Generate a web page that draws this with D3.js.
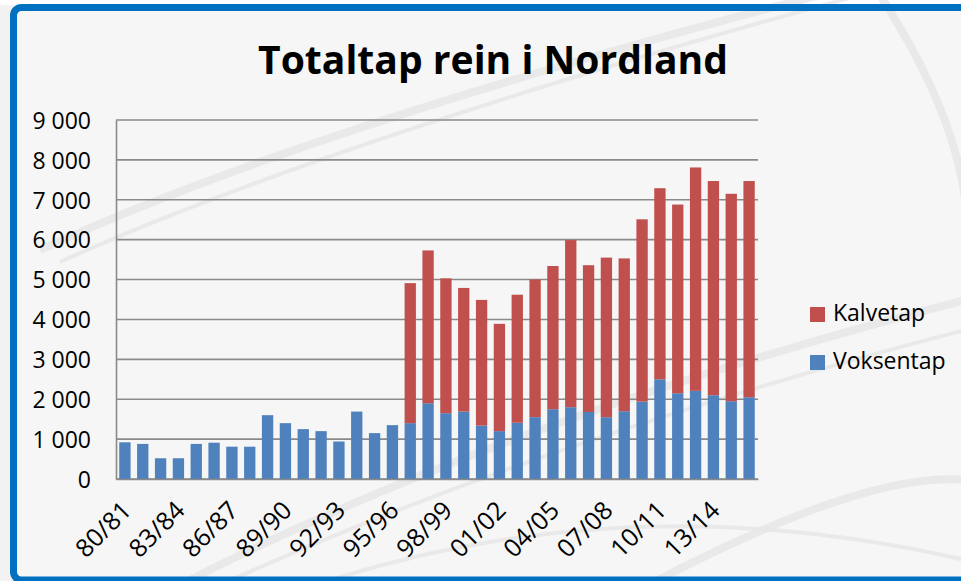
<!DOCTYPE html>
<html>
<head>
<meta charset="utf-8">
<script src="https://cdn.jsdelivr.net/npm/d3@7"></script>
<style>
  body { margin: 0; background: #ffffff; }
  svg { display: block; }
  .tick text { font-family: "Open Sans", sans-serif; fill: #000; }
</style>
</head>
<body>
<div id="chart"></div>
<script>
// sesonger (x-akse)
var seasons = ["80/81","81/82","82/83","83/84","84/85","85/86","86/87","87/88","88/89","89/90",
  "90/91","91/92","92/93","93/94","94/95","95/96","96/97","97/98","98/99","99/00",
  "00/01","01/02","02/03","03/04","04/05","05/06","06/07","07/08","08/09","09/10",
  "10/11","11/12","12/13","13/14","14/15","15/16"];

var voksentap = [920, 880, 520, 520, 880, 910, 810, 810, 1600, 1400,
  1250, 1200, 940, 1690, 1150, 1350, 1400, 1900, 1650, 1690,
  1340, 1200, 1410, 1550, 1750, 1800, 1680, 1550, 1700, 1940,
  2500, 2150, 2210, 2100, 1950, 2050];

var kalvetap = [0, 0, 0, 0, 0, 0, 0, 0, 0, 0,
  0, 0, 0, 0, 0, 0, 3510, 3830, 3380, 3100,
  3150, 2690, 3210, 3450, 3590, 4190, 3680, 4000, 3830, 4570,
  4790, 4730, 5600, 5370, 5200, 5420];

var yTicks = [0, 1000, 2000, 3000, 4000, 5000, 6000, 7000, 8000, 9000];
var xTickLabels = ["80/81","83/84","86/87","89/90","92/93","95/96","98/99","01/02","04/05","07/08","10/11","13/14"];

var seriesNames = ["Voksentap", "Kalvetap"];
var colors = {Voksentap: "#4f81bd", Kalvetap: "#c0504d"};

var svgWidth = 961;
var svgHeight = 581;

var plot = {left: 116, right: 758, top: 120, bottom: 479};

var svg = d3.select("#chart")
  .append("svg")
  .attr("width", svgWidth)
  .attr("height", svgHeight);

// bakgrunn
svg.append("rect").attr("width", svgWidth).attr("height", svgHeight).attr("fill", "#f2f2f2");
svg.append("rect").attr("width", svgWidth).attr("height", 5).attr("fill", "#ffffff");
svg.append("rect")
  .attr("x", 13.5).attr("y", 7.5)
  .attr("width", svgWidth + 20).attr("height", svgHeight)
  .attr("rx", 8)
  .attr("fill", "#f6f6f6");

// lyse "sveip" i bakgrunnen
var swooshes = [
  "M40,250 Q300,130 820,-5",
  "M60,262 Q330,140 860,-5",
  "M180,585 Q500,420 965,300",
  "M220,585 Q540,440 965,330",
  "M880,-5 Q980,150 965,260",
  "M300,590 Q620,480 965,560",
  "M620,600 Q860,470 965,480"
];
svg.append("g").selectAll("path")
  .data(swooshes)
  .enter()
  .append("path")
  .attr("d", d => d)
  .attr("fill", "none")
  .attr("stroke", "#e6e6e6")
  .attr("stroke-width", (d, i) => i % 2 == 0 ? 8 : 4)
  .attr("opacity", 0.8);

// blå ramme
svg.append("rect")
  .attr("x", 13.5).attr("y", 7.5)
  .attr("width", svgWidth + 20).attr("height", svgHeight - 8.5)
  .attr("rx", 8)
  .attr("fill", "none")
  .attr("stroke", "#0070c0")
  .attr("stroke-width", 7);

var xScale = d3.scaleBand()
  .domain(seasons)
  .range([plot.left, plot.right])
  .paddingInner(0.365)
  .paddingOuter(0.1825);

var yScale = d3.scaleLinear()
  .domain([0, 9000])
  .range([plot.bottom, plot.top]);

var locale = d3.formatLocale({decimal: ",", thousands: " ", grouping: [3], currency: ["", " kr"]});
var fmt = locale.format(",d");

// rutenett
svg.append("g")
  .selectAll("line")
  .data(yTicks)
  .enter()
  .append("line")
  .attr("x1", plot.left)
  .attr("x2", plot.right)
  .attr("y1", d => yScale(d))
  .attr("y2", d => yScale(d))
  .attr("stroke", "#8a8a8a")
  .attr("stroke-width", 1.6);

var leftAxis = d3.axisLeft(yScale)
  .tickValues(yTicks)
  .tickFormat(fmt)
  .tickSize(0)
  .tickPadding(25);

var yAxis = svg.append("g")
  .attr("transform", `translate(${plot.left}, 0)`)
  .call(leftAxis);
yAxis.select(".domain").attr("stroke", "#8a8a8a").attr("stroke-width", 1.6);
yAxis.selectAll("text").style("font-size", "23px").attr("dy", "0.36em");

// stablede søyler
var table = seasons.map((s, i) => ({season: s, Voksentap: voksentap[i], Kalvetap: kalvetap[i]}));
var stacked = d3.stack().keys(seriesNames)(table);

svg.append("g")
  .selectAll("g")
  .data(stacked)
  .enter()
  .append("g")
  .attr("fill", d => colors[d.key])
  .selectAll("rect")
  .data(d => d.filter(p => p[1] > p[0]))
  .enter()
  .append("rect")
  .attr("x", d => xScale(d.data.season))
  .attr("y", d => yScale(d[1]))
  .attr("width", xScale.bandwidth())
  .attr("height", d => yScale(d[0]) - yScale(d[1]));

var bottomAxis = d3.axisBottom(xScale)
  .tickValues(xTickLabels)
  .tickSize(0)
  .tickPadding(0);

var xAxis = svg.append("g")
  .attr("transform", `translate(0, ${plot.bottom})`)
  .call(bottomAxis);
xAxis.select(".domain").attr("stroke", "#8a8a8a").attr("stroke-width", 1.6);
xAxis.selectAll("text")
  .style("font-size", "25px")
  .attr("text-anchor", "end")
  .attr("y", 0)
  .attr("dy", 0)
  .attr("transform", "translate(8, 33) rotate(-45)");

// tittel
svg.append("text")
  .attr("x", 493)
  .attr("y", 74)
  .attr("text-anchor", "middle")
  .attr("textLength", 470)
  .attr("lengthAdjust", "spacingAndGlyphs")
  .style("font-family", "'Open Sans', sans-serif")
  .style("font-weight", "bold")
  .style("font-size", "39px")
  .text("Totaltap rein i Nordland");

// forklaring
var legendItems = ["Kalvetap", "Voksentap"];
var legend = svg.append("g")
  .selectAll("g")
  .data(legendItems)
  .enter()
  .append("g")
  .attr("transform", (d, i) => `translate(810, ${307 + i * 48})`);

legend.append("rect")
  .attr("width", 15)
  .attr("height", 15)
  .attr("fill", d => colors[d]);

legend.append("text")
  .attr("x", 23)
  .attr("y", 14)
  .style("font-family", "'Open Sans', sans-serif")
  .style("font-size", "23px")
  .text(d => d);
</script>
</body>
</html>
